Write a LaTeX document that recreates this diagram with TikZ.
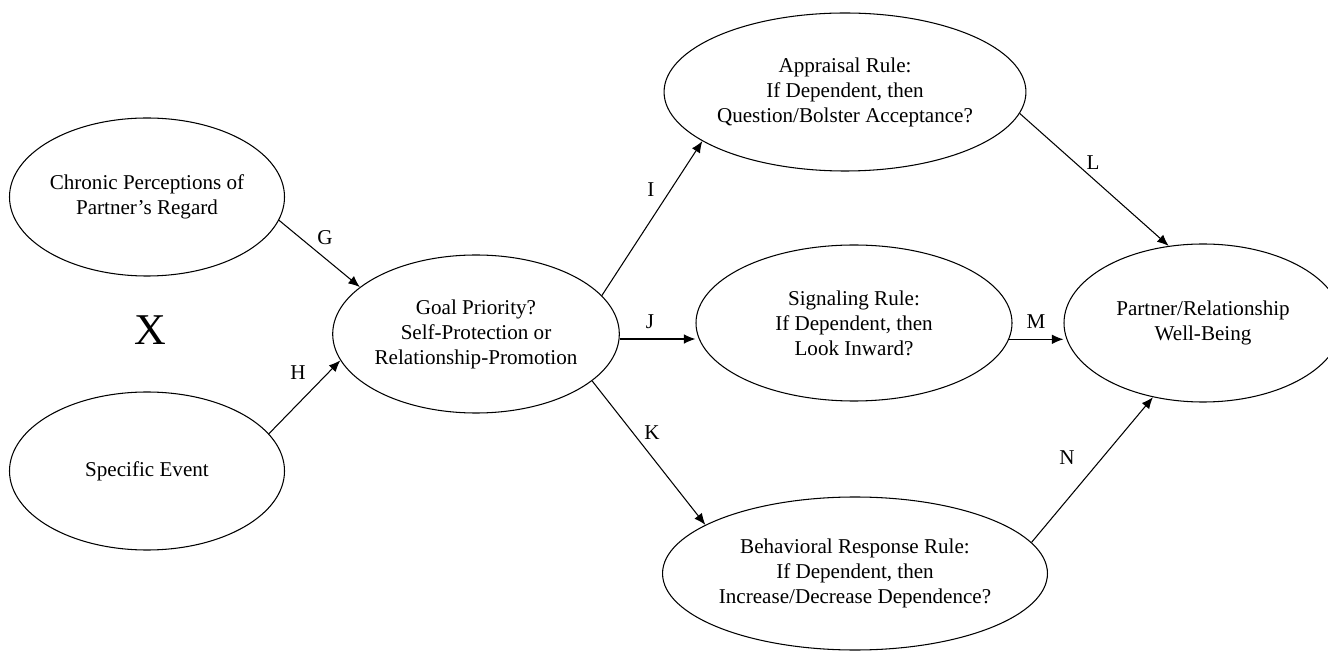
\documentclass[tikz,border=0pt]{standalone}
\usepackage{fontspec}
\setmainfont{Liberation Serif}
\usepackage{tikz}
\usetikzlibrary{shapes.geometric,arrows.meta}

\begin{document}
\begin{tikzpicture}[
  oval/.style={draw,ellipse,inner sep=0pt,align=center,line width=0.6pt},
  link/.style={-{Latex[length=2.3mm,width=1.9mm]},line width=0.6pt}]
\fontsize{12}{14.2}\selectfont
\useasboundingbox (0,0) rectangle (26.56,-13.06);
  \node[oval,minimum width=5.5cm,minimum height=3.16cm] (chronic) at (2.94,-3.94) {Chronic Perceptions of\\Partner's Regard};
  \node[oval,minimum width=5.5cm,minimum height=3.16cm] (specific) at (2.94,-9.42) {Specific Event};
  \node[font=\fontsize{25}{30}\selectfont] (cross) at (3.0,-6.6) {X};
  \node[oval,minimum width=5.48cm,minimum height=3.16cm] (goal) at (9.52,-6.68) {Goal Priority?\\Self-Protection or\\Relationship-Promotion};
  \node[oval,minimum width=6.36cm,minimum height=3.16cm] (appraisal) at (16.9,-1.84) {Appraisal Rule:\\If Dependent, then\\Question/Bolster Acceptance?};
  \node[oval,minimum width=6.32cm,minimum height=3.12cm] (signaling) at (17.08,-6.46) {Signaling Rule:\\If Dependent, then\\Look Inward?};
  \node[oval,minimum width=6.36cm,minimum height=3.06cm] (behavioral) at (17.1,-11.47) {Behavioral Response Rule:\\If Dependent, then\\Increase/Decrease Dependence?};
  \node[oval,minimum width=5.56cm,minimum height=3.16cm] (partner) at (24.06,-6.46) {Partner/Relationship\\Well-Being};
  \draw[link] (chronic.-10) -- (goal.158);
  \node (lG) at (6.5,-4.76) {G};
  \draw[link] (specific.17) -- (goal.-169);
  \node (lH) at (5.96,-7.46) {H};
  \draw[link] (goal.17) -- (appraisal.-161);
  \node (lI) at (13.02,-3.8) {I};
  \draw[link] (goal.-2) -- (goal.-2 -| signaling.west);
  \node (lJ) at (13.0,-6.44) {J};
  \draw[link] (goal.-22) -- (behavioral.162);
  \node (lK) at (13.04,-8.66) {K};
  \draw[link] (appraisal.-7) -- (partner.114);
  \node (lL) at (21.86,-3.26) {L};
  \draw[link] (signaling.-6) -- (signaling.-6 -| partner.west);
  \node (lM) at (20.72,-6.44) {M};
  \draw[link] (behavioral.10) -- (partner.-124);
  \node (lN) at (21.34,-9.16) {N};
\end{tikzpicture}
\end{document}
